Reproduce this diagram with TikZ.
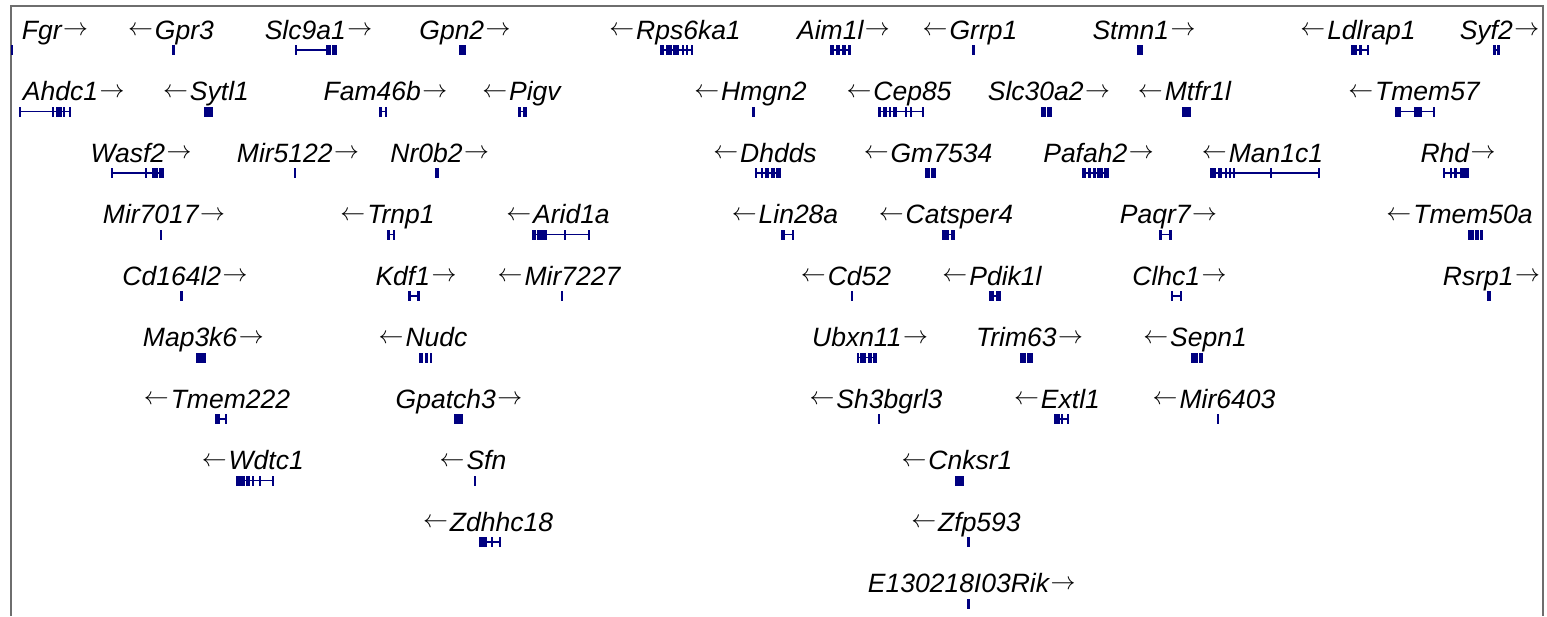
\documentclass[tikz,border=0pt]{standalone}
\usepackage{fontspec}
\setmainfont{Liberation Sans}
\definecolor{genecol}{HTML}{000080}
\definecolor{framegray}{HTML}{6E6E6E}
\newcommand\rarr{\kern1.5pt\raisebox{3.5pt}{$\rightarrow$}}
\newcommand\larr{\raisebox{3.5pt}{$\leftarrow$}\kern2pt}
\newcommand\gexon[3]{\fill[exon] (#1,#3-5) rectangle (#2,#3+5);}
\newcommand\gtick[2]{\fill[exon] (#1-1,#2-5) rectangle (#1+1,#2+5);}
\newcommand\gintron[3]{\draw[intron] (#1,#3) -- (#2,#3);}
\begin{document}
\begin{tikzpicture}[x=1pt,y=-1pt,
  lbl/.style={font=\fontsize{26.5}{31}\selectfont\itshape, anchor=base, inner sep=0pt},
  exon/.style={fill=genecol},
  intron/.style={draw=genecol, line width=1.3pt},
  framepath/.style={draw=framegray, line width=1.6pt}]
\useasboundingbox (0,0) rectangle (1547,616);
\fill[white] (0,0) rectangle (1547,616);
\draw[framepath] (11,616) -- (11,6) -- (1543,6) -- (1543,616);

% ---------- row 1 ----------
\node[lbl] (fgr) at (55,39) {Fgr\rarr};
\gtick{12}{50}
\node[lbl] (gpr3) at (171,39) {\larr Gpr3};
\gexon{172}{175}{50}
\node[lbl] (slc9a1) at (318.5,39) {Slc9a1\rarr};
\gintron{295}{330}{50} \gtick{295.5}{50} \gexon{326}{331}{50} \gexon{332}{337}{50}
\node[lbl] (gpn2) at (465,39) {Gpn2\rarr};
\gexon{459}{466}{50}
\node[lbl] (rps6ka1) at (675,39) {\larr Rps6ka1};
\gintron{660}{693}{50} \gexon{660}{664}{50} \gexon{666}{672}{50} \gexon{673}{679}{50} \gtick{683}{50} \gtick{687}{50} \gtick{692}{50}
\node[lbl] (aim1l) at (843.5,39) {Aim1l\rarr};
\gintron{830}{851}{50} \gexon{830}{834}{50} \gexon{836}{840}{50} \gexon{842}{846}{50} \gexon{848}{851}{50}
\node[lbl] (grrp1) at (970,39) {\larr Grrp1};
\gexon{972}{975}{50}
\node[lbl] (stmn1) at (1144,39) {Stmn1\rarr};
\gexon{1137}{1143}{50}
\node[lbl] (ldlrap1) at (1358,39) {\larr Ldlrap1};
\gintron{1351}{1369}{50} \gexon{1351}{1357}{50} \gexon{1359}{1362}{50} \gtick{1368}{50}
\node[lbl] (syf2) at (1499.5,39) {Syf2\rarr};
\gintron{1493}{1500}{50} \gexon{1493}{1495.5}{50} \gexon{1497}{1500}{50}

% ---------- row 2 ----------
\node[lbl] (ahdc1) at (73.7,100.5) {Ahdc1\rarr};
\gintron{19}{71}{111.5} \gtick{20}{111.5} \gtick{53}{111.5} \gexon{56}{62}{111.5} \gtick{64}{111.5} \gtick{70}{111.5}
\node[lbl] (sytl1) at (206,100.5) {\larr Sytl1};
\gexon{204}{213}{111.5}
\node[lbl] (fam46b) at (385.5,100.5) {Fam46b\rarr};
\gintron{379}{387}{111.5} \gexon{379}{381.5}{111.5} \gexon{384.5}{387}{111.5}
\node[lbl] (pigv) at (521.5,100.5) {\larr Pigv};
\gintron{518}{527}{111.5} \gexon{518}{521}{111.5} \gexon{523}{527}{111.5}
\node[lbl] (hmgn2) at (750.5,100.5) {\larr Hmgn2};
\gexon{752}{755}{111.5}
\node[lbl] (cep85) at (899,100.5) {\larr Cep85};
\gintron{878}{924}{111.5} \gexon{878}{881}{111.5} \gexon{883}{887}{111.5} \gexon{889}{891}{111.5} \gexon{893}{897}{111.5} \gexon{905}{907}{111.5} \gexon{910}{912}{111.5} \gtick{923}{111.5}
\node[lbl] (slc30a2) at (1049,100.5) {Slc30a2\rarr};
\gexon{1041}{1046}{111.5} \gexon{1047}{1052}{111.5}
\node[lbl] (mtfr1l) at (1184.5,100.5) {\larr Mtfr1l};
\gexon{1182}{1191}{111.5}
\node[lbl] (tmem57) at (1414,100.5) {\larr Tmem57};
\gintron{1395}{1435}{111.5} \gexon{1395}{1401}{111.5} \gexon{1414}{1422}{111.5} \gtick{1434}{111.5}

% ---------- row 3 ----------
\node[lbl] (wasf2) at (141,162) {Wasf2\rarr};
\gintron{111}{164}{173} \gtick{112}{173} \gtick{146}{173} \gexon{152}{158}{173} \gexon{159}{164}{173}
\node[lbl] (mir5122) at (298,162) {Mir5122\rarr};
\gtick{295}{173}
\node[lbl] (nr0b2) at (439.7,162) {Nr0b2\rarr};
\gexon{435}{439}{173}
\node[lbl] (dhdds) at (765,162) {\larr Dhdds};
\gintron{755}{781}{173} \gtick{756}{173} \gtick{762}{173} \gexon{765}{769}{173} \gexon{771}{775}{173} \gexon{776}{781}{173}
\node[lbl] (gm7534) at (928,162) {\larr Gm7534};
\gexon{925}{930}{173} \gexon{931}{936}{173}
\node[lbl] (pafah2) at (1098.5,162) {Pafah2\rarr};
\gintron{1082}{1109}{173} \gexon{1082}{1086}{173} \gexon{1088}{1091}{173} \gexon{1093}{1096}{173} \gexon{1097}{1103}{173} \gexon{1104}{1109}{173}
\node[lbl] (man1c1) at (1262.5,162) {\larr Man1c1};
\gintron{1210}{1320}{173} \gexon{1210}{1216}{173} \gexon{1218}{1222}{173} \gtick{1226}{173} \gtick{1230}{173} \gtick{1234}{173} \gtick{1271}{173} \gtick{1319}{173}
\node[lbl] (rhd) at (1458,162) {Rhd\rarr};
\gintron{1443}{1469}{173} \gtick{1444}{173} \gtick{1451}{173} \gexon{1454}{1457}{173} \gexon{1460}{1469}{173}

% ---------- row 4 ----------
\node[lbl] (mir7017) at (164,223.5) {Mir7017\rarr};
\gtick{161}{234.5}
\node[lbl] (trnp1) at (387.5,223.5) {\larr Trnp1};
\gintron{387}{395}{234.5} \gexon{387}{389.5}{234.5} \gexon{392.5}{395}{234.5}
\node[lbl] (arid1a) at (558,223.5) {\larr Arid1a};
\gintron{532}{590}{234.5} \gexon{532}{536}{234.5} \gexon{537}{547}{234.5} \gtick{565}{234.5} \gtick{589}{234.5}
\node[lbl] (lin28a) at (785,223.5) {\larr Lin28a};
\gintron{781}{794}{234.5} \gexon{781}{785}{234.5} \gtick{793}{234.5}
\node[lbl] (catsper4) at (946,223.5) {\larr Catsper4};
\gintron{942}{955}{234.5} \gexon{942}{949}{234.5} \gexon{951}{955}{234.5}
\node[lbl] (paqr7) at (1168.5,223.5) {Paqr7\rarr};
\gintron{1159}{1172}{234.5} \gexon{1159}{1162}{234.5} \gexon{1169}{1172}{234.5}
\node[lbl] (tmem50a) at (1459.5,223.5) {\larr Tmem50a};
\gexon{1468}{1474}{234.5} \gexon{1475}{1479}{234.5} \gexon{1480}{1483}{234.5}

% ---------- row 5 ----------
\node[lbl] (cd164l2) at (185,285) {Cd164l2\rarr};
\gexon{180}{183}{296}
\node[lbl] (kdf1) at (416,285) {Kdf1\rarr};
\gintron{408}{420}{296} \gexon{408}{411}{296} \gexon{417}{420}{296}
\node[lbl] (mir7227) at (559,285) {\larr Mir7227};
\gtick{562}{296}
\node[lbl] (cd52) at (846,285) {\larr Cd52};
\gexon{850.5}{853}{296}
\node[lbl] (pdik1l) at (992,285) {\larr Pdik1l};
\gintron{989}{1001}{296} \gexon{989}{994}{296} \gexon{996}{1001}{296}
\node[lbl] (clhc1) at (1179.5,285) {Clhc1\rarr};
\gintron{1171}{1182}{296} \gexon{1171}{1173}{296} \gexon{1180}{1182}{296}
\node[lbl] (rsrp1) at (1491.5,285) {Rsrp1\rarr};
\gexon{1487}{1491}{296}

% ---------- row 6 ----------
\node[lbl] (map3k6) at (203.3,346.5) {Map3k6\rarr};
\gexon{196}{206}{357.5}
\node[lbl] (nudc) at (423,346.5) {\larr Nudc};
\gexon{419}{423}{357.5} \gexon{424.5}{428}{357.5} \gexon{429.5}{432}{357.5}
\node[lbl] (ubxn11) at (870,346.5) {Ubxn11\rarr};
\gintron{857}{877}{357.5} \gtick{858}{357.5} \gexon{860}{866}{357.5} \gexon{868}{872}{357.5} \gexon{873}{877}{357.5}
\node[lbl] (trim63) at (1029.5,346.5) {Trim63\rarr};
\gexon{1020}{1026}{357.5} \gexon{1027}{1033}{357.5}
\node[lbl] (sepn1) at (1195,346.5) {\larr Sepn1};
\gexon{1191}{1198}{357.5} \gexon{1199}{1203}{357.5}

% ---------- row 7 ----------
\node[lbl] (tmem222) at (217,408) {\larr Tmem222};
\gintron{215}{226}{419} \gexon{215}{220}{419} \gtick{225.5}{419}
\node[lbl] (gpatch3) at (459,408) {Gpatch3\rarr};
\gexon{454}{463}{419}
\node[lbl] (sh3bgrl3) at (876,408) {\larr Sh3bgrl3};
\gexon{877.5}{880}{419}
\node[lbl] (extl1) at (1057,408) {\larr Extl1};
\gintron{1054}{1069}{419} \gexon{1054}{1060}{419} \gtick{1062}{419} \gtick{1068}{419}
\node[lbl] (mir6403) at (1214,408) {\larr Mir6403};
\gtick{1218}{419}

% ---------- row 8 ----------
\node[lbl] (wdtc1) at (252.8,469.5) {\larr Wdtc1};
\gintron{236}{274}{480.5} \gexon{236}{245}{480.5} \gexon{246}{250}{480.5} \gtick{253}{480.5} \gtick{260}{480.5} \gtick{273}{480.5}
\node[lbl] (sfn) at (473,469.5) {\larr Sfn};
\gexon{474}{476}{480.5}
\node[lbl] (cnksr1) at (957,469.5) {\larr Cnksr1};
\gexon{955}{964}{480.5}

% ---------- row 9 ----------
\node[lbl] (zdhhc18) at (488,531) {\larr Zdhhc18};
\gintron{479}{501}{542} \gexon{479}{487}{542} \gtick{492}{542} \gtick{500}{542}
\node[lbl] (zfp593) at (966,531) {\larr Zfp593};
\gexon{967}{970}{542}

% ---------- row 10 ----------
\node[lbl] (e130218i03rik) at (971.7,592.5) {E130218I03Rik\rarr};
\gexon{967}{970}{603.5}
\end{tikzpicture}
\end{document}
